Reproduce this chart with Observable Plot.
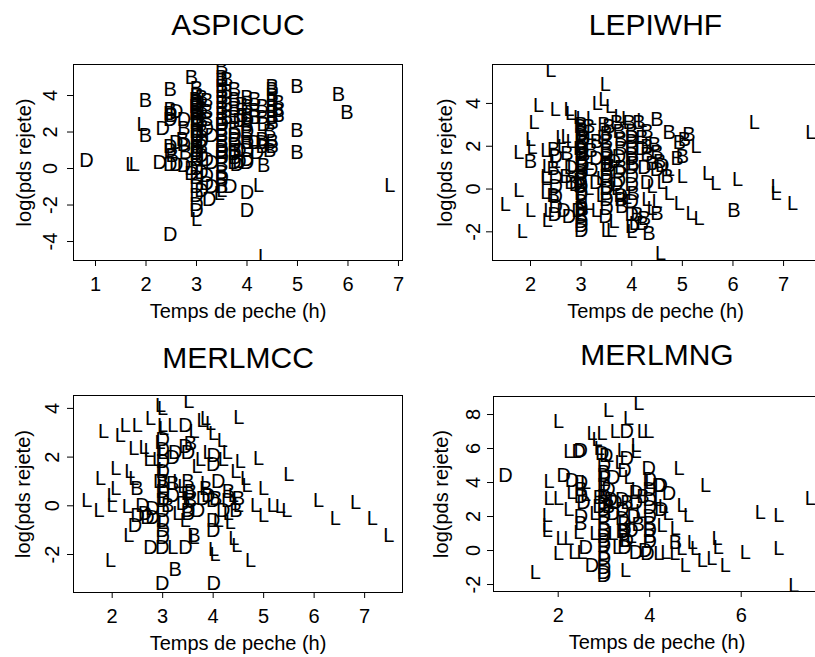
<!DOCTYPE html>
<html><head><meta charset="utf-8">
<script src="https://cdn.jsdelivr.net/npm/d3@7"></script>
<script src="https://cdn.jsdelivr.net/npm/@observablehq/plot@0.6"></script>
<style>
html,body{margin:0;padding:0;background:#fff;overflow:hidden;}
#fig{position:relative;width:815px;height:657px;overflow:hidden;background:#fff;}
.panel{position:absolute;}
</style></head><body><div id="fig"></div>
<script>
// ---------- data ----------
const titles = ["ASPICUC", "LEPIWHF", "MERLMCC", "MERLMNG"];
const xLabel = "Temps de peche (h)";
const yLabel = "log(pds rejete)";

// ASPICUC
const aspB = [[1.99,3.7],[1.99,1.83],[2.48,4.33],[2.48,3.25],[2.5,2.9],[2.48,1.0],[2.52,0.7],[2.75,2.2],[2.72,1.6],[2.78,0.9],[2.9,5.0],
[3.0,4.4],[3.0,4.0],[3.0,3.6],[3.0,3.2],[3.0,2.8],[3.0,2.4],[3.0,2.0],[3.0,1.5],[3.0,1.0],[3.0,0.5],[2.98,3.8],[2.98,3.4],[2.98,3.0],[3.02,2.6],[3.02,1.8],[3.02,1.2],
[3.1,3.9],[3.1,3.3],[3.1,2.6],[3.1,2.0],[3.1,1.2],[3.2,3.7],[3.2,3.1],[3.2,2.7],
[3.5,5.55],[3.5,5.0],[3.5,4.8],[3.5,4.5],[3.5,4.2],[3.5,3.9],[3.5,3.6],[3.5,3.3],[3.5,3.0],[3.5,2.7],[3.5,2.4],[3.5,2.1],[3.5,1.8],[3.5,1.5],[3.5,1.2],[3.5,0.9],[3.5,0.6],[3.5,0.2],[3.5,-0.2],[3.5,-0.6],[3.5,-1.0],
[3.6,4.9],[3.6,4.2],[3.6,3.5],[3.6,2.8],[3.75,4.3],[3.75,3.8],[3.75,3.3],[3.75,2.8],[3.75,2.2],[3.75,1.6],[3.75,1.0],[3.75,0.6],
[3.9,3.5],[3.9,2.9],[4.0,3.9],[4.0,3.4],[4.0,2.9],[4.0,2.4],[4.0,1.9],[4.0,1.4],[4.15,3.8],[4.15,3.2],[4.15,2.8],
[4.3,3.4],[4.3,2.8],[4.3,1.6],[4.3,1.2],[4.33,0.17],[4.45,1.0],[4.45,2.0],
[4.5,4.5],[4.5,4.3],[4.5,4.0],[4.5,3.7],[4.5,3.4],[4.5,3.1],[4.5,2.8],[4.5,2.5],[4.5,1.5],[4.5,1.2],
[4.62,3.6],[4.62,3.2],[4.62,2.9],[4.99,4.5],[4.99,2.1],[4.99,0.9],[5.81,4.06],[5.98,3.04]];
const aspD = [[0.82,0.44],[2.27,0.35],[2.33,2.2],[2.48,3.0],[2.48,2.7],[2.48,1.2],[2.48,0.2],[2.48,-3.6],[2.6,3.1],[2.6,1.4],[2.6,0.2],
[2.75,2.7],[2.75,1.3],[2.75,0.17],[2.9,0.0],[2.9,-0.3],
[3.0,3.0],[3.0,2.0],[3.0,1.0],[3.0,0.5],[3.0,0.0],[3.0,-0.5],[3.0,-1.0],[3.0,-1.5],[3.0,-2.0],[3.0,-2.3],[3.0,1.7],[3.0,0.8],[3.0,2.5],[3.0,3.5],
[3.1,1.5],[3.1,0.7],[3.1,-0.2],[3.1,-1.2],[3.2,0.5],[3.2,-0.4],[3.2,-0.8],[3.25,-1.7],[3.2,2.2],[3.3,0.3],[3.3,-1.0],[3.3,1.8],
[3.5,2.4],[3.5,1.0],[3.5,0.6],[3.5,-0.5],[3.67,-1.0],[3.75,1.8],[3.75,1.3],[3.75,0.8],[3.75,0.3],[3.8,0.2],[3.85,2.6],[3.85,1.0],[3.85,0.4],
[4.0,2.6],[4.0,2.0],[4.0,1.4],[4.0,1.0],[4.0,0.5],[4.0,0.3],[4.0,-1.3],[4.0,-2.3],[4.15,1.4],[4.2,0.9],[4.3,1.4],[4.33,2.4]];
const aspL = [[1.7,0.2],[1.77,0.2],[1.92,2.4],[3.0,-2.8],[3.45,-1.4],[3.5,-1.2],[4.23,-0.94],[4.33,-4.83],[6.83,-0.94]];

// LEPIWHF
const lepB = [[2.0,1.29],[2.46,1.84],[2.45,0.95],[2.45,-0.3],[2.72,1.64],[2.7,0.6],[2.8,0.3],
[3.0,3.0],[3.0,2.6],[3.0,2.2],[3.0,1.8],[3.0,1.4],[3.0,0.8],[3.0,0.5],[3.0,-0.6],[3.0,-1.3],[3.05,2.4],[3.05,1.6],[2.97,0.15],[3.02,-0.95],[2.98,2.9],
[3.15,2.9],[3.2,1.8],[3.3,2.2],[3.45,3.0],[3.5,2.6],[3.5,2.2],[3.5,1.8],[3.5,1.4],[3.5,0.9],[3.5,0.4],[3.5,-0.2],[3.55,2.9],[3.55,1.1],
[3.7,3.1],[3.75,2.7],[3.78,2.3],[3.78,1.9],[3.78,1.0],[3.78,-0.5],[3.8,-0.8],
[3.95,3.1],[4.0,2.7],[4.0,2.2],[4.0,1.6],[4.03,1.2],[4.03,-0.2],[4.1,-1.2],
[4.14,3.1],[4.3,2.7],[4.2,2.4],[4.3,2.0],[4.3,1.6],[4.4,1.2],[4.5,3.25],[4.45,2.1],[4.5,1.7],[4.55,1.3],[4.5,-1.15],
[4.21,-1.6],[4.34,-2.1],[4.25,-1.4],[4.74,2.62],[4.94,2.15],[5.04,2.31],[5.13,2.55],[5.0,1.52],[4.9,1.4],[4.7,0.6],[6.02,-0.99]];
const lepD = [[2.5,1.5],[2.5,0.55],[2.5,0.1],[2.5,-0.35],[2.5,-0.8],[2.48,-1.2],[2.65,-1.0],[2.76,-1.3],[2.95,-1.0],[3.0,-1.5],[3.0,-1.93],
[2.8,1.0],[2.9,0.2],[3.0,2.5],[3.0,1.6],[3.0,1.2],[3.0,0.7],[3.0,0.1],[3.0,-0.2],[3.0,-0.9],[2.98,1.9],[3.02,1.1],[3.0,-1.7],[2.98,0.4],[3.02,2.2],
[3.2,0.9],[3.3,1.4],[3.3,0.3],[3.45,2.4],[3.5,1.6],[3.5,1.1],[3.5,0.6],[3.5,0.0],[3.5,-0.5],[3.5,-0.9],[3.48,-1.3],
[3.65,1.3],[3.7,0.2],[3.75,1.5],[3.75,0.8],[3.75,0.4],[3.78,-0.3],
[4.0,2.4],[4.0,1.9],[4.0,1.4],[4.0,1.0],[4.0,0.6],[4.0,0.2],[4.0,-0.6],[4.0,-1.2],[4.01,-1.77],
[4.2,1.9],[4.25,1.0],[4.3,0.3],[4.5,0.9],[4.6,1.1]];
const lepL = [[2.40,5.53],[3.48,4.9],[2.16,3.88],[2.49,3.72],[2.79,3.53],[2.95,3.35],[3.32,4.0],[3.58,3.85],[3.45,4.2],
[2.07,3.1],[2.0,2.3],[2.03,1.95],[1.77,1.68],[1.5,-0.75],[1.77,-0.05],[2.0,-1.0],[1.84,-2.0],
[2.33,1.05],[2.3,0.58],[2.33,-1.46],[2.3,1.8],[2.49,1.3],[2.82,1.1],[2.3,0.48],[2.3,-0.15],[2.36,-1.0],
[2.6,2.4],[2.8,2.2],[2.7,2.46],[2.63,1.99],[2.76,3.72],[3.2,3.3],[3.2,2.6],
[3.15,1.2],[3.15,0.0],[3.15,-0.7],[3.5,-1.93],[3.6,-1.93],[3.65,-1.5],[4.0,-2.0],[4.05,-1.6],
[3.0,2.8],[3.0,2.0],[3.0,1.0],[3.0,0.3],[3.0,-0.4],[3.0,-1.2],[3.0,3.3],[3.4,0.5],[3.4,-0.3],[3.7,0.0],[3.9,-0.4],
[4.3,-0.5],[4.4,-0.9],[4.5,-0.6],[4.57,-3.03],[4.2,3.2],[3.9,3.3],[3.75,3.4],
[4.74,0.9],[4.74,-0.2],[5.0,0.58],[4.94,-0.68],[5.17,-1.15],[5.33,-1.38],[5.27,2.0],
[5.5,0.74],[5.66,0.27],[6.09,0.42],[6.42,3.09],[6.85,0.11],[6.85,-0.2],[7.18,-0.68],[7.54,2.62],[4.6,0.3],[4.4,0.1],[3.3,-1.0]];

// MERLMCC
const mccB = [[2.49,0.7],[3.62,-1.22],[3.25,-2.6],[3.55,2.55],[3.5,1.0],[3.55,0.6],[3.55,0.2],[3.0,1.0],[3.1,0.0],[3.5,-0.3],[3.85,0.7],[4.3,0.6],[4.5,0.3],[4.45,-0.2],[3.2,0.9],[4.05,0.3]];
const mccD = [[3.45,3.3],[3.0,2.7],[3.0,2.3],[3.0,1.8],[3.0,1.4],[3.0,0.6],[3.0,0.2],[3.0,-0.2],[3.0,-0.6],[3.0,-1.0],[3.0,-1.3],[2.95,1.0],
[3.25,2.2],[3.2,2.0],[3.45,2.45],[3.5,2.2],[4.01,2.07],[4.0,1.7],[4.1,1.0],
[2.5,-0.4],[2.45,-0.8],[2.7,-0.5],[2.8,-0.5],[2.65,-0.3],[2.76,-1.7],[2.99,-1.7],[3.45,-1.7],[3.2,0.4],
[3.4,0.1],[3.5,-0.2],[3.5,0.5],[3.7,-0.2],[3.8,0.3],[4.0,0.2],[4.0,-0.6],[4.0,-1.0],[3.9,0.4],[4.3,0.2],[4.2,-0.2],
[2.99,-3.2],[4.01,-3.2],[2.6,0.0],[2.8,-0.1]];
const mccL = [[3.52,4.26],[2.96,4.12],[4.51,3.64],[3.85,3.57],[3.78,3.5],[3.95,3.37],[2.76,3.57],[2.26,3.3],[2.5,3.3],[1.83,3.03],[2.16,2.89],
[3.02,3.16],[3.2,3.3],[3.62,3.03],[4.01,2.96],[4.18,2.68],[2.43,2.34],[2.63,2.4],[2.73,2.25],[2.73,1.9],[2.9,1.9],
[4.28,2.2],[4.2,1.9],[4.9,1.93],[4.54,1.8],[3.75,1.9],[3.68,1.6],[2.07,1.52],[1.77,1.11],[2.35,1.4],[2.43,1.1],
[2.07,0.7],[2.0,0.42],[1.5,0.22],[1.74,-0.19],[2.0,0.01],[2.3,-0.05],[2.33,-1.22],
[3.2,-1.7],[3.62,-1.3],[4.01,-1.8],[4.04,-2.0],[4.41,-1.35],[4.47,-1.63],[4.34,-0.67],[4.74,-2.25],
[4.64,1.1],[4.67,0.83],[5.0,0.7],[4.84,0.01],[5.0,-0.4],[5.17,0.0],[5.33,-0.05],[5.46,-0.2],[5.5,1.3],
[6.09,0.22],[6.42,-0.53],[6.82,0.15],[7.15,-0.53],[7.48,-1.22],[1.97,-2.25],
[3.0,4.0],[3.0,3.3],[2.95,2.6],[3.0,2.2],[3.0,1.5],[3.0,0.8],[3.0,0.3],[3.0,-0.7],[3.3,1.0],[3.4,0.8],[3.3,-0.3],[3.5,0.3],
[4.4,0.4],[4.3,-0.3],[4.1,-0.6],[3.85,0.9],[4.45,1.4],[4.5,0.0],[3.9,2.2],[3.45,-0.6]];

// MERLMNG
const mngB = [[2.49,1.57],[2.5,3.6],[2.9,3.1],[3.0,1.6],[3.0,0.6],[3.0,-0.2],[3.1,2.6],[3.4,1.1],[3.45,0.6],[3.5,2.8],[3.75,1.5],[4.0,1.6],[4.0,0.8],[4.56,0.49],[3.85,3.2],[3.0,4.6]];
const mngD = [[0.85,4.42],[2.12,4.42],[2.3,4.1],[2.49,5.9],[2.45,5.8],[2.5,4.0],[2.5,3.2],[2.55,2.8],[2.5,2.0],[2.74,-0.88],[2.6,0.2],
[2.96,5.7],[3.05,5.6],[3.0,5.0],[3.0,4.4],[3.0,3.8],[3.0,3.2],[3.0,2.8],[3.0,2.4],[3.0,2.0],[3.0,1.2],[3.0,0.8],[3.0,0.3],[3.0,-0.5],[3.0,-1.0],[3.0,-1.47],[3.0,-1.3],
[2.9,2.6],[3.1,3.6],[3.15,3.0],[3.2,4.3],[3.2,2.2],[3.25,2.8],
[3.5,6.97],[3.5,5.4],[3.45,4.7],[3.4,3.0],[3.4,2.4],[3.45,1.6],[3.45,1.2],[3.45,0.2],[3.5,0.6],[3.4,1.9],
[3.7,3.4],[3.7,2.8],[3.65,2.0],[3.6,1.2],
[3.98,4.8],[4.0,4.2],[4.0,3.6],[4.0,3.0],[4.0,2.5],[4.0,2.0],[4.0,1.2],[4.0,0.5],[3.9,0.0],[3.7,-0.1],[3.95,-0.2],
[4.24,3.83],[4.42,3.34],[4.2,3.8],[4.25,2.4]];
const mngL = [[1.5,-1.28],[2.01,7.56],[3.1,8.25],[3.76,8.64],[3.54,7.76],[2.74,6.88],[2.96,6.88],[3.25,6.97],[3.84,6.97],[3.98,6.97],
[2.85,6.5],[2.9,6.0],[2.23,5.8],[3.1,5.6],[3.7,6.2],[3.7,5.8],[3.4,5.9],[4.64,4.8],[3.35,5.2],
[1.8,4.03],[1.8,3.05],[2.01,3.05],[1.76,2.06],[1.76,1.47],[1.76,1.18],[2.06,0.69],[2.23,0.69],[2.01,-0.2],[2.34,-0.1],[2.52,-0.1],
[2.45,1.08],[2.23,2.4],[2.3,3.4],[2.6,4.0],[2.6,3.3],[2.8,2.2],[2.8,1.0],[3.47,-1.18],
[4.27,1.47],[4.56,1.28],[4.71,2.65],[4.85,2.06],[4.4,2.2],[4.3,2.6],[4.2,3.0],[4.93,0.49],[5.0,0.1],[5.22,3.83],[5.47,0.69],
[4.78,-0.88],[5.15,-0.59],[5.36,-0.49],[5.65,-0.88],[5.5,0.2],[4.2,-0.2],[4.35,-0.15],[4.55,-0.2],[4.7,0.1],
[6.09,-0.1],[6.42,2.26],[6.82,2.06],[6.82,0.1],[7.15,-2.06],[7.51,3.05],
[3.0,4.2],[3.0,3.4],[3.2,1.0],[3.55,4.3],[3.7,3.6],[3.8,2.3],[3.6,0.8],[3.3,0.2],[4.0,4.0]];

// tick values
const xTicks = [[1,2,3,4,5,6,7],[2,3,4,5,6,7],[2,3,4,5,6,7],[2,4,6]];
const yTicks = [[-4,-2,0,2,4],[-2,0,2,4],[-2,0,2,4],[-2,0,2,4,6,8]];

// ---------- drawing ----------
const FONT = "'Liberation Sans', Arial, Helvetica, sans-serif";
const ctx = document.createElement("canvas").getContext("2d");
ctx.font = "20px 'Liberation Sans', Arial, Helvetica, sans-serif";
const textW = s => ctx.measureText(s).width;

function rows(B, D, L) {
  return [
    ...B.map(([x, y]) => ({x, y, t: "B"})),
    ...D.map(([x, y]) => ({x, y, t: "D"})),
    ...L.map(([x, y]) => ({x, y, t: "L"}))
  ];
}
const panels = [
  {data: rows(aspB, aspD, aspL), left: 0, top: 0, width: 407, height: 328, ml: 73, mr: 5, mt: 64, mb: 68,
   xd: [0.564, 7.08], yd: [-5.04, 5.70], tdy: -39, xldy: 51, yldx: -49, ypad: 23},
  {data: rows(lepB, lepD, lepL), left: 407, top: 0, width: 415, height: 328, ml: 85, mr: 4, mt: 64, mb: 68,
   xd: [1.249, 7.69], yd: [-3.34, 5.82], tdy: -39, xldy: 51, yldx: -47, ypad: 19},
  {data: rows(mccB, mccD, mccL), left: 0, top: 328, width: 407, height: 328, ml: 73, mr: 5, mt: 67, mb: 64,
   xd: [1.234, 7.75], yd: [-3.56, 4.53], tdy: -37, xldy: 51, yldx: -50, ypad: 21},
  {data: rows(mngB, mngD, mngL), left: 407, top: 328, width: 417, height: 328, ml: 86, mr: 4, mt: 68, mb: 65,
   xd: [0.586, 7.733], yd: [-2.41, 9.06], tdy: -41, xldy: 51, yldx: -52, ypad: 20}
];
const fig = document.getElementById("fig");
panels.forEach((p, i) => {
  const xMid = (p.xd[0] + p.xd[1]) / 2, yMid = (p.yd[0] + p.yd[1]) / 2;
  // rotated texts: anchored at their start, shifted by half their length to be centred
  const yTickMarks = yTicks[i].map(v => Plot.text([v], {
    x: () => p.xd[0], y: () => v, text: () => String(v),
    dx: -p.ypad, dy: textW(String(v)) / 2, rotate: -90, textAnchor: "start", fontSize: 20, fill: "black"
  }));
  const chart = Plot.plot({
    width: p.width, height: p.height,
    marginLeft: p.ml, marginRight: p.mr, marginTop: p.mt, marginBottom: p.mb,
    style: {fontFamily: FONT, fontSize: "20px", background: "transparent", color: "black", overflow: "visible"},
    x: {domain: p.xd},
    y: {domain: p.yd},
    marks: [
      Plot.axisX({ticks: xTicks[i], tickSize: 6, tickPadding: 18, lineAnchor: "middle", tickFormat: d => String(d), label: null, fontSize: 20}),
      Plot.axisY({ticks: yTicks[i], tickSize: 6, tickFormat: () => "", label: null}),
      ...yTickMarks,
      Plot.text(p.data, {x: "x", y: "y", text: "t", fill: "black", fontSize: 20, clip: true}),
      Plot.frame({stroke: "black", strokeWidth: 1}),
      Plot.text([titles[i]], {x: () => xMid, y: () => p.yd[1], dy: p.tdy, fontSize: 30, fill: "black"}),
      Plot.text([xLabel], {x: () => xMid, y: () => p.yd[0], dy: p.xldy, fontSize: 20, fill: "black"}),
      Plot.text([yLabel], {x: () => p.xd[0], y: () => yMid, dx: p.yldx, dy: textW(yLabel) / 2, rotate: -90, textAnchor: "start", fontSize: 20, fill: "black"})
    ]
  });
  chart.classList.add("panel");
  chart.style.left = p.left + "px";
  chart.style.top = p.top + "px";
  fig.appendChild(chart);
});
</script>
</body></html>
